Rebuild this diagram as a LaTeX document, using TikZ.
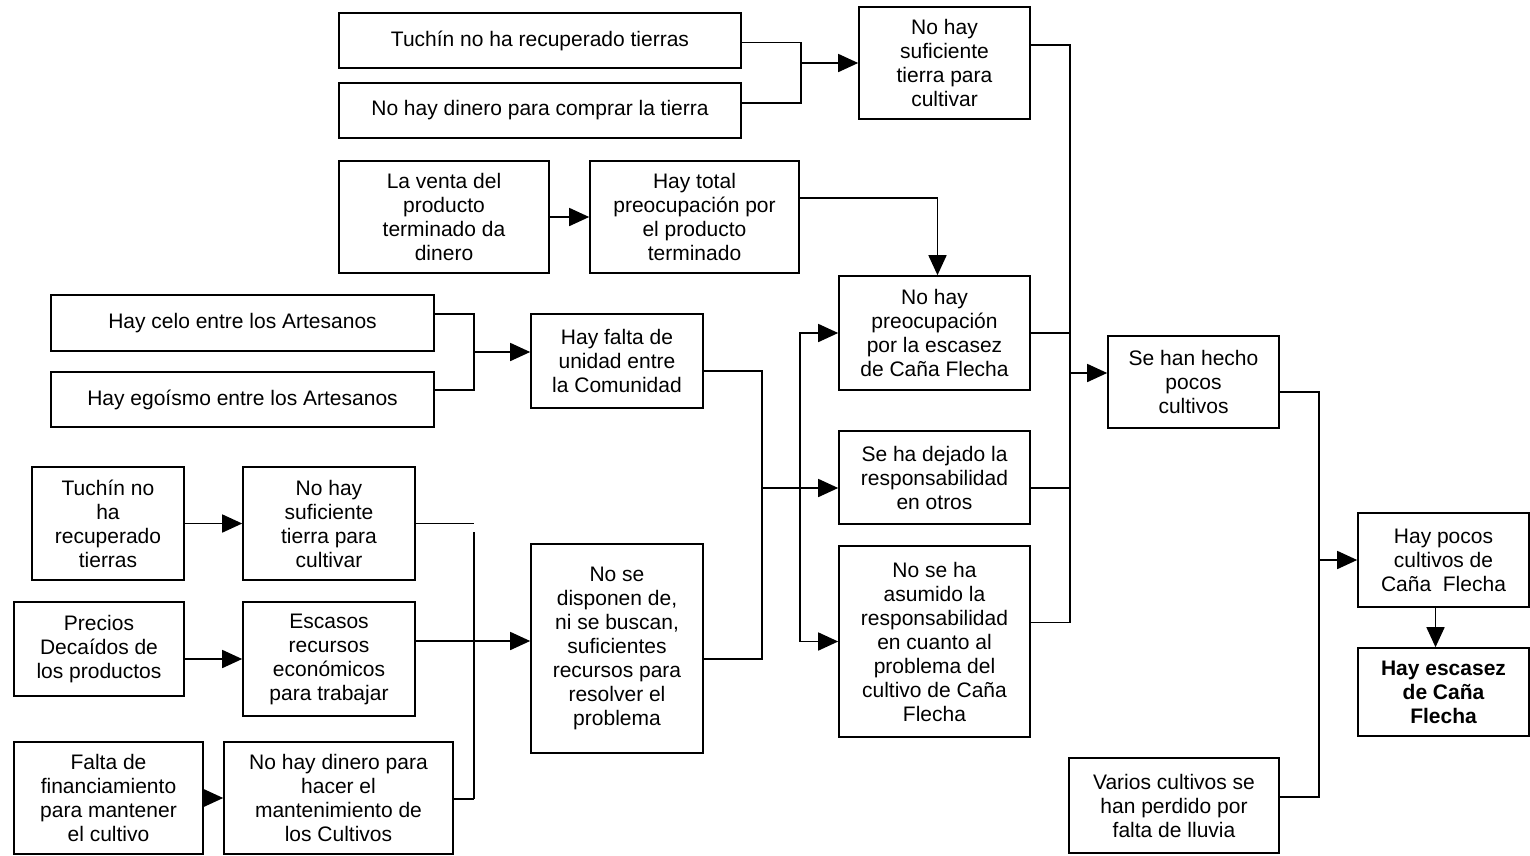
\documentclass[tikz,border=0pt]{standalone}
\usepackage{fontspec}
\setmainfont{Liberation Sans}
\usetikzlibrary{arrows.meta,positioning,calc}

\begin{document}
\begin{tikzpicture}[x=1pt, y=-1pt,
      box/.style={draw, line width=1.6pt, align=center, inner sep=0pt,
                  font={\fontsize{21}{24}\selectfont}},
      sz/.style 2 args={minimum width=#1pt, minimum height=#2pt},
      wire/.style={line width=1.6pt},
      arr/.style={line width=1.6pt, -{Triangle[length=20pt, width=18pt]}}
    ]
      \useasboundingbox (0,0) rectangle (1530,855);

      % Upper branch: land
      \node[box, sz={402}{55}] (tierraA) at (540,40.5) {Tuchín no ha recuperado tierras};
      \node[box, sz={402}{55}] (dineroA) at (540,110.5) {No hay dinero para comprar la tierra};
      \node[box, sz={171}{112}] (sintierra) at (944.5,63) {No hay\\suficiente\\tierra para\\cultivar};

      \node[box, sz={210}{112}] (venta) at (444,217) {La venta del\\producto\\terminado da\\dinero};
      \node[box, sz={209}{112}] (preoc) at (694.5,217) {Hay total\\preocupación por\\el producto\\terminado};

      % Middle branch: community
      \node[box, sz={383}{56}] (celo) at (242.5,323) {Hay celo entre los Artesanos};
      \node[box, sz={383}{55}] (egoismo) at (242.5,399.5) {Hay egoísmo entre los Artesanos};
      \node[box, sz={172}{94}] (unidad) at (617,361) {Hay falta de\\unidad entre\\la Comunidad};

      % Lower branch: resources
      \node[box, sz={152}{113}] (tuchin) at (108,523.5) {Tuchín no\\ha\\recuperado\\tierras};
      \node[box, sz={172}{113}] (tierraB) at (329,523.5) {No hay\\suficiente\\tierra para\\cultivar};
      \node[box, sz={170}{94}] (precios) at (99,649) {Precios\\Decaídos de\\los productos};
      \node[box, sz={172}{114}] (escasos) at (329,659) {Escasos\\recursos\\económicos\\para trabajar};
      \node[box, sz={189}{112}] (falta) at (108.5,798) {Falta de\\financiamiento\\para mantener\\el cultivo};
      \node[box, sz={229}{112}] (mantener) at (338.5,798) {No hay dinero para\\hacer el\\mantenimiento de\\los Cultivos};
      \node[box, sz={172}{209}] (recursos) at (617,648.5) {No se\\disponen de,\\ni se buscan,\\suficientes\\recursos para\\resolver el\\problema};

      % Responsibility column
      \node[box, sz={191}{114}] (nopreoc) at (934.5,333) {No hay\\preocupación\\por la escasez\\de Caña Flecha};
      \node[box, sz={191}{93}] (dejado) at (934.5,477.5) {Se ha dejado la\\responsabilidad\\en otros};
      \node[box, sz={191}{191}] (asumido) at (934.5,641.5) {No se ha\\asumido la\\responsabilidad\\en cuanto al\\problema del\\cultivo de Caña\\Flecha};

      % Effects
      \node[box, sz={171}{92}] (pocos) at (1193.5,382) {Se han hecho\\pocos\\cultivos};
      \node[box, sz={210}{95}] (lluvia) at (1174,805.5) {Varios cultivos se\\han perdido por\\falta de lluvia};
      \node[box, sz={171}{94}] (pocoscana) at (1443.5,560) {Hay pocos\\cultivos de\\Caña~~Flecha};
      \node[box, sz={171}{88}, font={\fontsize{21}{24}\selectfont\bfseries}] (escasez) at (1443.5,692) {Hay escasez\\de Caña\\Flecha};

      % Junctions
      \coordinate (jA) at (801,63);
      \coordinate (jH) at (474,352);
      \coordinate (jTop) at (474,532);
      \coordinate (jBot) at (474,799);
      \coordinate (jD) at (762,488);
      \coordinate (jS) at (800,488);
      \coordinate (jE) at (1070,373);
      \coordinate (jP) at (1319,560);

      % Connectors
      \draw[wire] ([yshift=-2pt]tierraA.east) -| (jA);
      \draw[wire] ([yshift=7.5pt]dineroA.east) -| (jA);
      \draw[arr] (jA) -- (sintierra.west);

      \draw[arr] (venta) -- (preoc);
      \draw[arr] ([yshift=19pt]preoc.east) -| ([xshift=3pt]nopreoc.north);

      \draw[wire] ([yshift=9pt]celo.east) -| (jH);
      \draw[wire] ([yshift=9.5pt]egoismo.east) -| (jH);
      \draw[arr] (jH) -- (jH -| unidad.west);

      \draw[arr] (tuchin) -- (tierraB);
      \draw[wire] (tierraB.east) -- (tierraB.east -| jTop);
      \draw[wire] (jTop) -- (jBot);
      \draw[wire] (mantener.east |- jBot) -- (jBot);
      \draw[arr] ([yshift=-10pt]precios.east) -- (escasos.west);
      \draw[arr] ([yshift=18pt]escasos.east) -- ([yshift=18pt]escasos.east -| recursos.west);
      \draw[arr] (falta) -- (mantener);

      \draw[wire] ([yshift=-10pt]unidad.east) -| (jD);
      \draw[wire] ([yshift=-10.5pt]recursos.east) -| (jD);
      \draw[arr] (jD) -- (jD -| dejado.west);
      \draw[arr] (jS) |- (nopreoc.west);
      \draw[arr] (jS) |- (asumido.west);

      \draw[wire] ([yshift=18pt]sintierra.east) -| (jE);
      \draw[wire] (nopreoc.east) -| (jE);
      \draw[wire] ([yshift=-10.5pt]dejado.east) -| (jE);
      \draw[wire] ([yshift=19pt]asumido.east) -| (jE);
      \draw[arr] (jE) -- (jE -| pocos.west);

      \draw[wire] ([yshift=-10pt]pocos.east) -| (jP);
      \draw[wire] ([yshift=8.5pt]lluvia.east) -| (jP);
      \draw[arr] (jP) -- (pocoscana.west);
      \draw[arr] ([xshift=-8pt]pocoscana.south) -- ([xshift=-8pt]escasez.north);
    \end{tikzpicture}
\end{document}
